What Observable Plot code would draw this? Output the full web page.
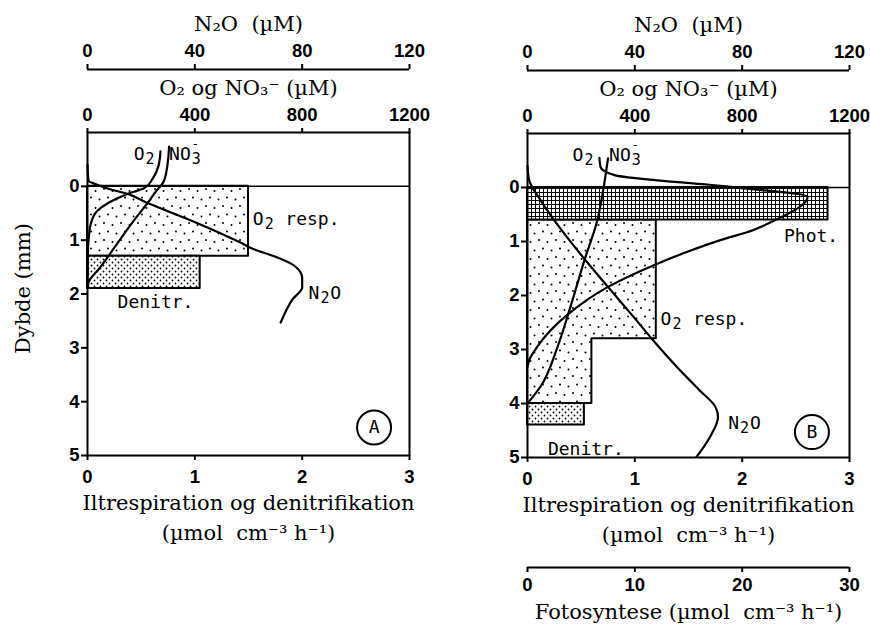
<!DOCTYPE html>
<html>
<head>
<meta charset="utf-8">
<script src="https://cdn.jsdelivr.net/npm/d3@7"></script>
<script src="https://cdn.jsdelivr.net/npm/@observablehq/plot@0.6"></script>
<style>
  html, body { margin: 0; padding: 0; background: #fff; }
  body { width: 870px; height: 626px; position: relative; overflow: hidden; }
  #panelA, #panelB { position: absolute; top: 0; }
  #panelA { left: 0; }
  #panelB { left: 435px; }
  svg { overflow: visible; }
</style>
</head>
<body>
<svg width="0" height="0" style="position:absolute">
  <defs>
    <pattern id="pResp" patternUnits="userSpaceOnUse" width="17" height="17">
      <rect width="17" height="17" fill="#fff"/>
      <circle cx="2" cy="2" r="1" fill="#000"/>
      <circle cx="10.5" cy="4" r="1" fill="#000"/>
      <circle cx="6" cy="10.5" r="1" fill="#000"/>
      <circle cx="14.5" cy="12.5" r="1" fill="#000"/>
    </pattern>
    <pattern id="pDen" patternUnits="userSpaceOnUse" width="6" height="6">
      <rect width="6" height="6" fill="#fff"/>
      <circle cx="1.5" cy="1.5" r="0.9" fill="#000"/>
      <circle cx="4.5" cy="4.5" r="0.9" fill="#000"/>
    </pattern>
    <pattern id="pPhot" patternUnits="userSpaceOnUse" width="4" height="4">
      <rect width="4" height="4" fill="#fff"/>
      <rect x="0" y="0" width="4" height="1" fill="#000"/>
      <rect x="0" y="0" width="1" height="4" fill="#000"/>
    </pattern>
  </defs>
</svg>
<div id="panelA"></div>
<div id="panelB"></div>
<script>
// ---------- axis ticks ----------
const depthTicks = [0, 1, 2, 3, 4, 5];          // Dybde (mm)
const rateTicks = [0, 1, 2, 3];                 // Iltrespiration og denitrifikation
const concTicks = [0, 400, 800, 1200];          // O2 og NO3 (µM)
const n2oTicks = [0, 40, 80, 120];              // N2O (µM)
const photTicks = [0, 10, 20, 30];              // Fotosyntese

// ---------- Panel A (dark) ----------
const aO2Depth = [-0.65, -0.37, -0.12, 0.03, 0.15, 0.3, 0.46, 0.7, 0.9, 1.14, 1.5, 1.85];
const aO2 = [272, 264, 240, 212, 144, 80, 36, 12, 6, 2, 1, 0];
const aNO3Depth = [-0.74, -0.4, -0.09, 0.1, 0.31, 0.6, 0.9, 1.23, 1.5, 1.76, 1.88];
const aNO3 = [304, 298, 284, 254, 224, 178, 134, 87, 48, 6, 0];
const aN2ODepth = [-0.4, -0.1, -0.03, 0.06, 0.12, 0.31, 0.68, 1.05, 1.17, 1.3, 1.48, 1.7, 1.88, 2.1, 2.31, 2.53];
const aN2O = [0, 0.4, 3.6, 8.8, 13.6, 22.4, 40.8, 57.2, 62, 69.6, 77.2, 80, 80, 76.4, 74, 72];
const aRespTop = [0], aRespBottom = [1.3], aRespRate = [1.5];
const aDenTop = [1.3], aDenBottom = [1.9], aDenRate = [1.05];

// ---------- Panel B (light) ----------
const bO2Depth = [-0.55, -0.38, -0.23, -0.01, 0.17, 0.64, 0.79, 0.98, 1.19, 1.41, 1.84, 2.36, 2.95, 3.2, 3.32];
const bO2 = [268, 272, 324, 756, 1044, 908, 840, 716, 596, 484, 300, 148, 36, 6, 0];
const bNO3Depth = [-0.54, -0.01, 0.61, 1.35, 2.21, 2.95, 3.69, 4.0];
const bNO3 = [300, 284, 260, 212, 160, 112, 48, 0];
const bN2ODepth = [-0.4, -0.14, 0.23, 0.61, 1.31, 1.84, 2.4, 2.83, 3.32, 3.75, 4.06, 4.25, 4.62, 4.99];
const bN2O = [0, 0.6, 4.8, 10, 21, 30, 39.6, 46.8, 55.6, 64, 70, 71, 68, 63];
const bPhotTop = [0], bPhotBottom = [0.6], bPhotRate = [28];
const bRespTop = [0.6, 2.8], bRespBottom = [2.8, 4.0], bRespRate = [1.2, 0.6];
const bDenTop = [4.0], bDenBottom = [4.4], bDenRate = [0.53];

// ---------- helpers ----------
const concPerUnit = concTicks[concTicks.length - 1] / rateTicks[rateTicks.length - 1];
const n2oPerUnit = n2oTicks[n2oTicks.length - 1] / rateTicks[rateTicks.length - 1];
const photPerUnit = photTicks[photTicks.length - 1] / rateTicks[rateTicks.length - 1];
const zip = (ds, vs) => ds.map((d, i) => ({d, v: vs[i]}));
const steps = (tops, bottoms, rates) =>
  tops.flatMap((t, i) => [{d: t, v: rates[i]}, {d: bottoms[i], v: rates[i]}]);

const serif = "DejaVu Serif";
const tickFont = "Liberation Sans";
const mono = "DejaVu Sans Mono";
const monoSize = 18;
const charW = 0.602 * monoSize;   // advance of one monospace character

function panel({ml, mr, top, bottom, data, labels, circle, yTitle, photAxis}) {
  const W = 435, H = 626;
  const k = (bottom - top) / 6;           // pixels per mm
  const kx = (W - ml - mr) / 3;           // pixels per rate unit
  const up = px => -1 - px / k;           // above the frame
  const dn = px => 5 + px / k;            // below the frame
  const marks = [];

  // bars (rates)
  for (const b of data.bars) {
    marks.push(Plot.areaX(steps(b.top, b.bottom, b.rate), {
      x1: 0, x2: d => d.v / b.per, y: "d",
      fill: b.fill, stroke: "black", strokeWidth: 2
    }));
  }
  // sediment surface
  marks.push(Plot.ruleY([0], {x1: 0, x2: 3, stroke: "black", strokeWidth: 1.5}));
  // profiles
  for (const c of data.curves) {
    marks.push(Plot.line(zip(c.depth, c.value), {
      x: d => d.v / c.per, y: "d", stroke: "black", strokeWidth: 2.2, curve: "monotone-y"
    }));
  }
  marks.push(Plot.frame({stroke: "black", strokeWidth: 2}));

  const tickText = {fontFamily: tickFont, fontSize: 18.5, fontWeight: "bold", fill: "black"};
  // left axis
  marks.push(Plot.axisY(depthTicks, {tickSize: 6, tickPadding: 2, label: null, strokeWidth: 2,
    tickFormat: d => String(d), ...tickText}));
  // bottom axis
  marks.push(Plot.axisX(rateTicks, {anchor: "bottom", tickSize: 5, tickPadding: 9, label: null, strokeWidth: 2,
    tickFormat: d => String(d), ...tickText}));
  // top O2 / NO3 axis
  marks.push(Plot.axisX(rateTicks, {anchor: "top", tickSize: 5, tickPadding: 7, label: null, strokeWidth: 2,
    tickFormat: d => String(d * concPerUnit), ...tickText}));
  // N2O axis (above)
  marks.push(Plot.ruleY([up(63)], {x1: 0, x2: 3, stroke: "black", strokeWidth: 2}));
  marks.push(Plot.ruleX(n2oTicks, {x: d => d / n2oPerUnit, y1: up(63), y2: up(68), stroke: "black", strokeWidth: 2}));
  marks.push(Plot.text(n2oTicks, {x: d => d / n2oPerUnit, y: up(81), text: d => String(d), ...tickText}));

  const titleText = {fontFamily: serif, fontSize: 21, fill: "black"};
  marks.push(Plot.text(["N\u2082O  (\u00b5M)"], {x: 1.5, y: up(108), text: d => d, ...titleText}));
  marks.push(Plot.text(["O\u2082 og NO\u2083\u207b (\u00b5M)"], {x: 1.5, y: up(44), text: d => d, ...titleText}));
  marks.push(Plot.text(["Iltrespiration og denitrifikation"], {x: 1.5, y: dn(48), text: d => d, ...titleText}));
  marks.push(Plot.text(["(\u00b5mol  cm\u207b\u00b3 h\u207b\u00b9)"], {x: 1.5, y: dn(78), text: d => d, ...titleText}));
  if (yTitle) {
    marks.push(Plot.text([yTitle], {x: 0, y: 1.9, dx: -64, rotate: -90, text: d => d, ...titleText}));
  }
  if (photAxis) {
    marks.push(Plot.ruleY([dn(110)], {x1: 0, x2: 3, stroke: "black", strokeWidth: 2}));
    marks.push(Plot.ruleX(photTicks, {x: d => d / photPerUnit, y1: dn(110), y2: dn(115), stroke: "black", strokeWidth: 2}));
    marks.push(Plot.text(photTicks, {x: d => d / photPerUnit, y: dn(128), text: d => String(d), ...tickText}));
    marks.push(Plot.text(["Fotosyntese (\u00b5mol  cm\u207b\u00b3 h\u207b\u00b9)"], {x: 1.5, y: dn(155), text: d => d, ...titleText}));
  }

  // in-plot labels (monospace pieces placed by character index)
  const monoText = {fontFamily: mono, fill: "black", textAnchor: "start"};
  const pieces = kind => labels.flatMap(l => l.parts
    .filter(p => p[2] === kind)
    .map(([s, i]) => ({x: l.x + (i * charW + (kind === "n" ? 0 : 1)) / kx, y: l.y, s})));
  marks.push(Plot.text(pieces("n"), {x: "x", y: "y", text: "s", fontSize: monoSize, ...monoText}));
  marks.push(Plot.text(pieces("sub"), {x: "x", y: "y", text: "s", fontSize: 15, dy: 5, ...monoText}));
  marks.push(Plot.text(pieces("sup"), {x: "x", y: "y", text: "s", fontSize: 12, dy: -10, ...monoText}));
  // panel letter
  marks.push(Plot.dot([circle], {x: "x", y: "y", r: 17, stroke: "black", strokeWidth: 2, fill: "white"}));
  marks.push(Plot.text([circle], {x: "x", y: "y", text: "t", fontFamily: mono, fontSize: 18, fill: "black"}));

  return Plot.plot({
    width: W, height: H,
    marginLeft: ml, marginRight: mr, marginTop: top, marginBottom: H - bottom,
    x: {domain: [0, 3]},
    y: {domain: [-1, 5], reverse: true},
    style: {background: "white", color: "black", overflow: "visible"},
    marks
  });
}

const plotA = panel({
  ml: 87, mr: 26, top: 132, bottom: 455,
  yTitle: "Dybde (mm)",
  data: {
    bars: [
      {top: aRespTop, bottom: aRespBottom, rate: aRespRate, per: 1, fill: "url(#pResp)"},
      {top: aDenTop, bottom: aDenBottom, rate: aDenRate, per: 1, fill: "url(#pDen)"}
    ],
    curves: [
      {depth: aO2Depth, value: aO2, per: concPerUnit},
      {depth: aNO3Depth, value: aNO3, per: concPerUnit},
      {depth: aN2ODepth, value: aN2O, per: n2oPerUnit}
    ]
  },
  labels: [
    {x: 0.43, y: -0.6, parts: [["O", 0, "n"], ["2", 1, "sub"]]},
    {x: 0.76, y: -0.6, parts: [["NO", 0, "n"], ["3", 2, "sub"], ["-", 2, "sup"]]},
    {x: 1.54, y: 0.61, parts: [["O", 0, "n"], ["2", 1, "sub"], ["resp.", 3, "n"]]},
    {x: 0.28, y: 2.15, parts: [["Denitr.", 0, "n"]]},
    {x: 2.06, y: 1.98, parts: [["N", 0, "n"], ["2", 1, "sub"], ["O", 2, "n"]]}
  ],
  circle: {t: "A", x: 2.67, y: 4.48}
});

const plotB = panel({
  ml: 92, mr: 21, top: 133, bottom: 457,
  photAxis: true,
  data: {
    bars: [
      {top: bRespTop, bottom: bRespBottom, rate: bRespRate, per: 1, fill: "url(#pResp)"},
      {top: bDenTop, bottom: bDenBottom, rate: bDenRate, per: 1, fill: "url(#pDen)"},
      {top: bPhotTop, bottom: bPhotBottom, rate: bPhotRate, per: photPerUnit, fill: "url(#pPhot)"}
    ],
    curves: [
      {depth: bO2Depth, value: bO2, per: concPerUnit},
      {depth: bNO3Depth, value: bNO3, per: concPerUnit},
      {depth: bN2ODepth, value: bN2O, per: n2oPerUnit}
    ]
  },
  labels: [
    {x: 0.42, y: -0.6, parts: [["O", 0, "n"], ["2", 1, "sub"]]},
    {x: 0.76, y: -0.6, parts: [["NO", 0, "n"], ["3", 2, "sub"], ["-", 2, "sup"]]},
    {x: 2.39, y: 0.9, parts: [["Phot.", 0, "n"]]},
    {x: 1.24, y: 2.44, parts: [["O", 0, "n"], ["2", 1, "sub"], ["resp.", 3, "n"]]},
    {x: 1.87, y: 4.37, parts: [["N", 0, "n"], ["2", 1, "sub"], ["O", 2, "n"]]},
    {x: 0.19, y: 4.85, parts: [["Denitr.", 0, "n"]]}
  ],
  circle: {t: "B", x: 2.65, y: 4.53}
});

document.getElementById("panelA").appendChild(plotA);
document.getElementById("panelB").appendChild(plotB);
</script>
</body>
</html>
